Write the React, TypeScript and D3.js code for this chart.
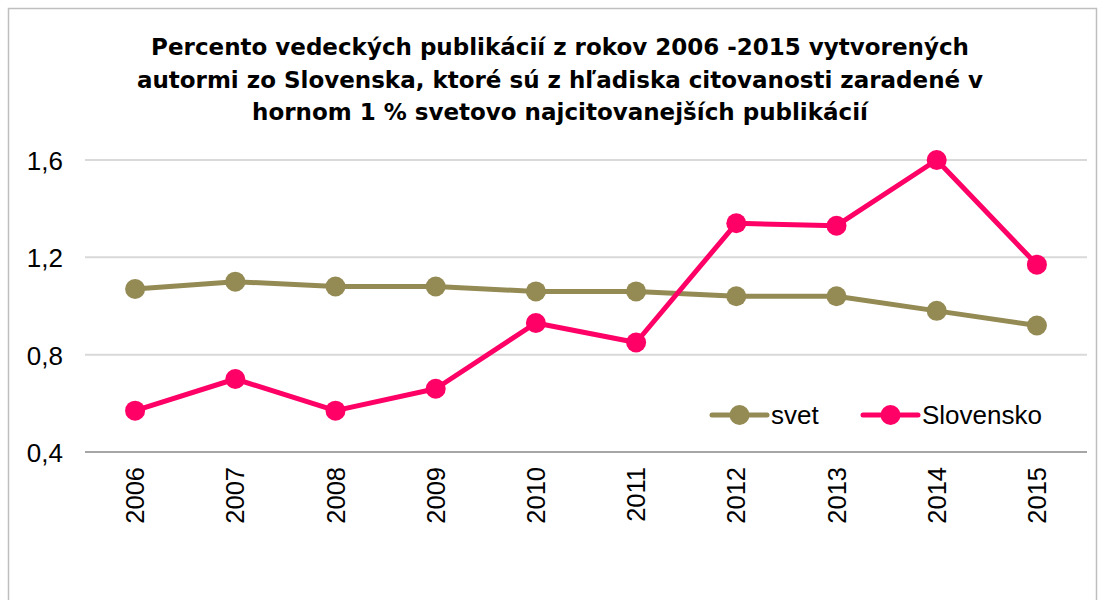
import React from "react";
import * as d3 from "d3";

const years = ["2006", "2007", "2008", "2009", "2010", "2011", "2012", "2013", "2014", "2015"];
const svet = [1.07, 1.10, 1.08, 1.08, 1.06, 1.06, 1.04, 1.04, 0.98, 0.92];
const slovensko = [0.57, 0.70, 0.57, 0.66, 0.93, 0.85, 1.34, 1.33, 1.60, 1.17];
const yTicks = [0.4, 0.8, 1.2, 1.6];
const titleLines = [
  "Percento vedeckých publikácií z rokov 2006 -2015 vytvorených",
  "autormi zo Slovenska, ktoré sú z hľadiska citovanosti zaradené v",
  "hornom 1 % svetovo najcitovanejších publikácií",
];
const seriesNames = ["svet", "Slovensko"];
const colors = ["#948A54", "#FF0066"];

export default function App() {
  const W = 1105, H = 600;
  const x = d3.scaleBand().domain(years).range([85, 1087]);
  const y = d3.scaleLinear().domain([0.4, 1.6]).range([452, 160]);
  const line = d3.line<number>().x((_, i) => x(years[i])! + x.bandwidth() / 2).y((d) => y(d));
  const fmt = (v: number) => v.toFixed(1).replace(".", ",");
  const series = [svet, slovensko];
  const legendX = [712, 863];
  return (
    <svg width={W} height={H} style={{ position: "absolute", left: 0, top: 0, background: "#fff" }}>
      <rect x={8.5} y={8.5} width={1088} height={620} fill="#fff" stroke="#BFBFBF" strokeWidth={1.5} />
      {titleLines.map((t, i) => (
        <text key={i} x={560} y={55 + i * 32.5} textAnchor="middle" fontFamily="DejaVu Sans" fontWeight="bold" fontSize={23} fill="#000">{t}</text>
      ))}
      {yTicks.map((t) => (
        <g key={t}>
          <line x1={85} x2={1087} y1={y(t)} y2={y(t)} stroke={t === 0.4 ? "#A6A6A6" : "#D9D9D9"} strokeWidth={2} />
          <text x={63} y={y(t) + 10} textAnchor="end" fontFamily="Liberation Sans" fontSize={26} fill="#000">{fmt(t)}</text>
        </g>
      ))}
      {years.map((yr) => {
        const cx = x(yr)! + x.bandwidth() / 2;
        return (
          <text key={yr} transform={`translate(${cx + 9},467) rotate(-90)`} textAnchor="end" fontFamily="Liberation Sans" fontSize={25.5} fill="#000">{yr}</text>
        );
      })}
      {series.map((s, si) => (
        <g key={si}>
          <path d={line(s)!} fill="none" stroke={colors[si]} strokeWidth={5} strokeLinejoin="round" />
          {s.map((v, i) => (
            <circle key={i} cx={x(years[i])! + x.bandwidth() / 2} cy={y(v)} r={10} fill={colors[si]} />
          ))}
        </g>
      ))}
      {seriesNames.map((n, i) => (
        <g key={n}>
          <line x1={legendX[i]} x2={legendX[i] + 55} y1={415} y2={415} stroke={colors[i]} strokeWidth={5} strokeLinecap="round" />
          <circle cx={legendX[i] + 27.5} cy={415} r={10} fill={colors[i]} />
          <text x={legendX[i] + 59} y={423.5} fontFamily="Liberation Sans" fontSize={26} fill="#000">{n}</text>
        </g>
      ))}
    </svg>
  );
}
